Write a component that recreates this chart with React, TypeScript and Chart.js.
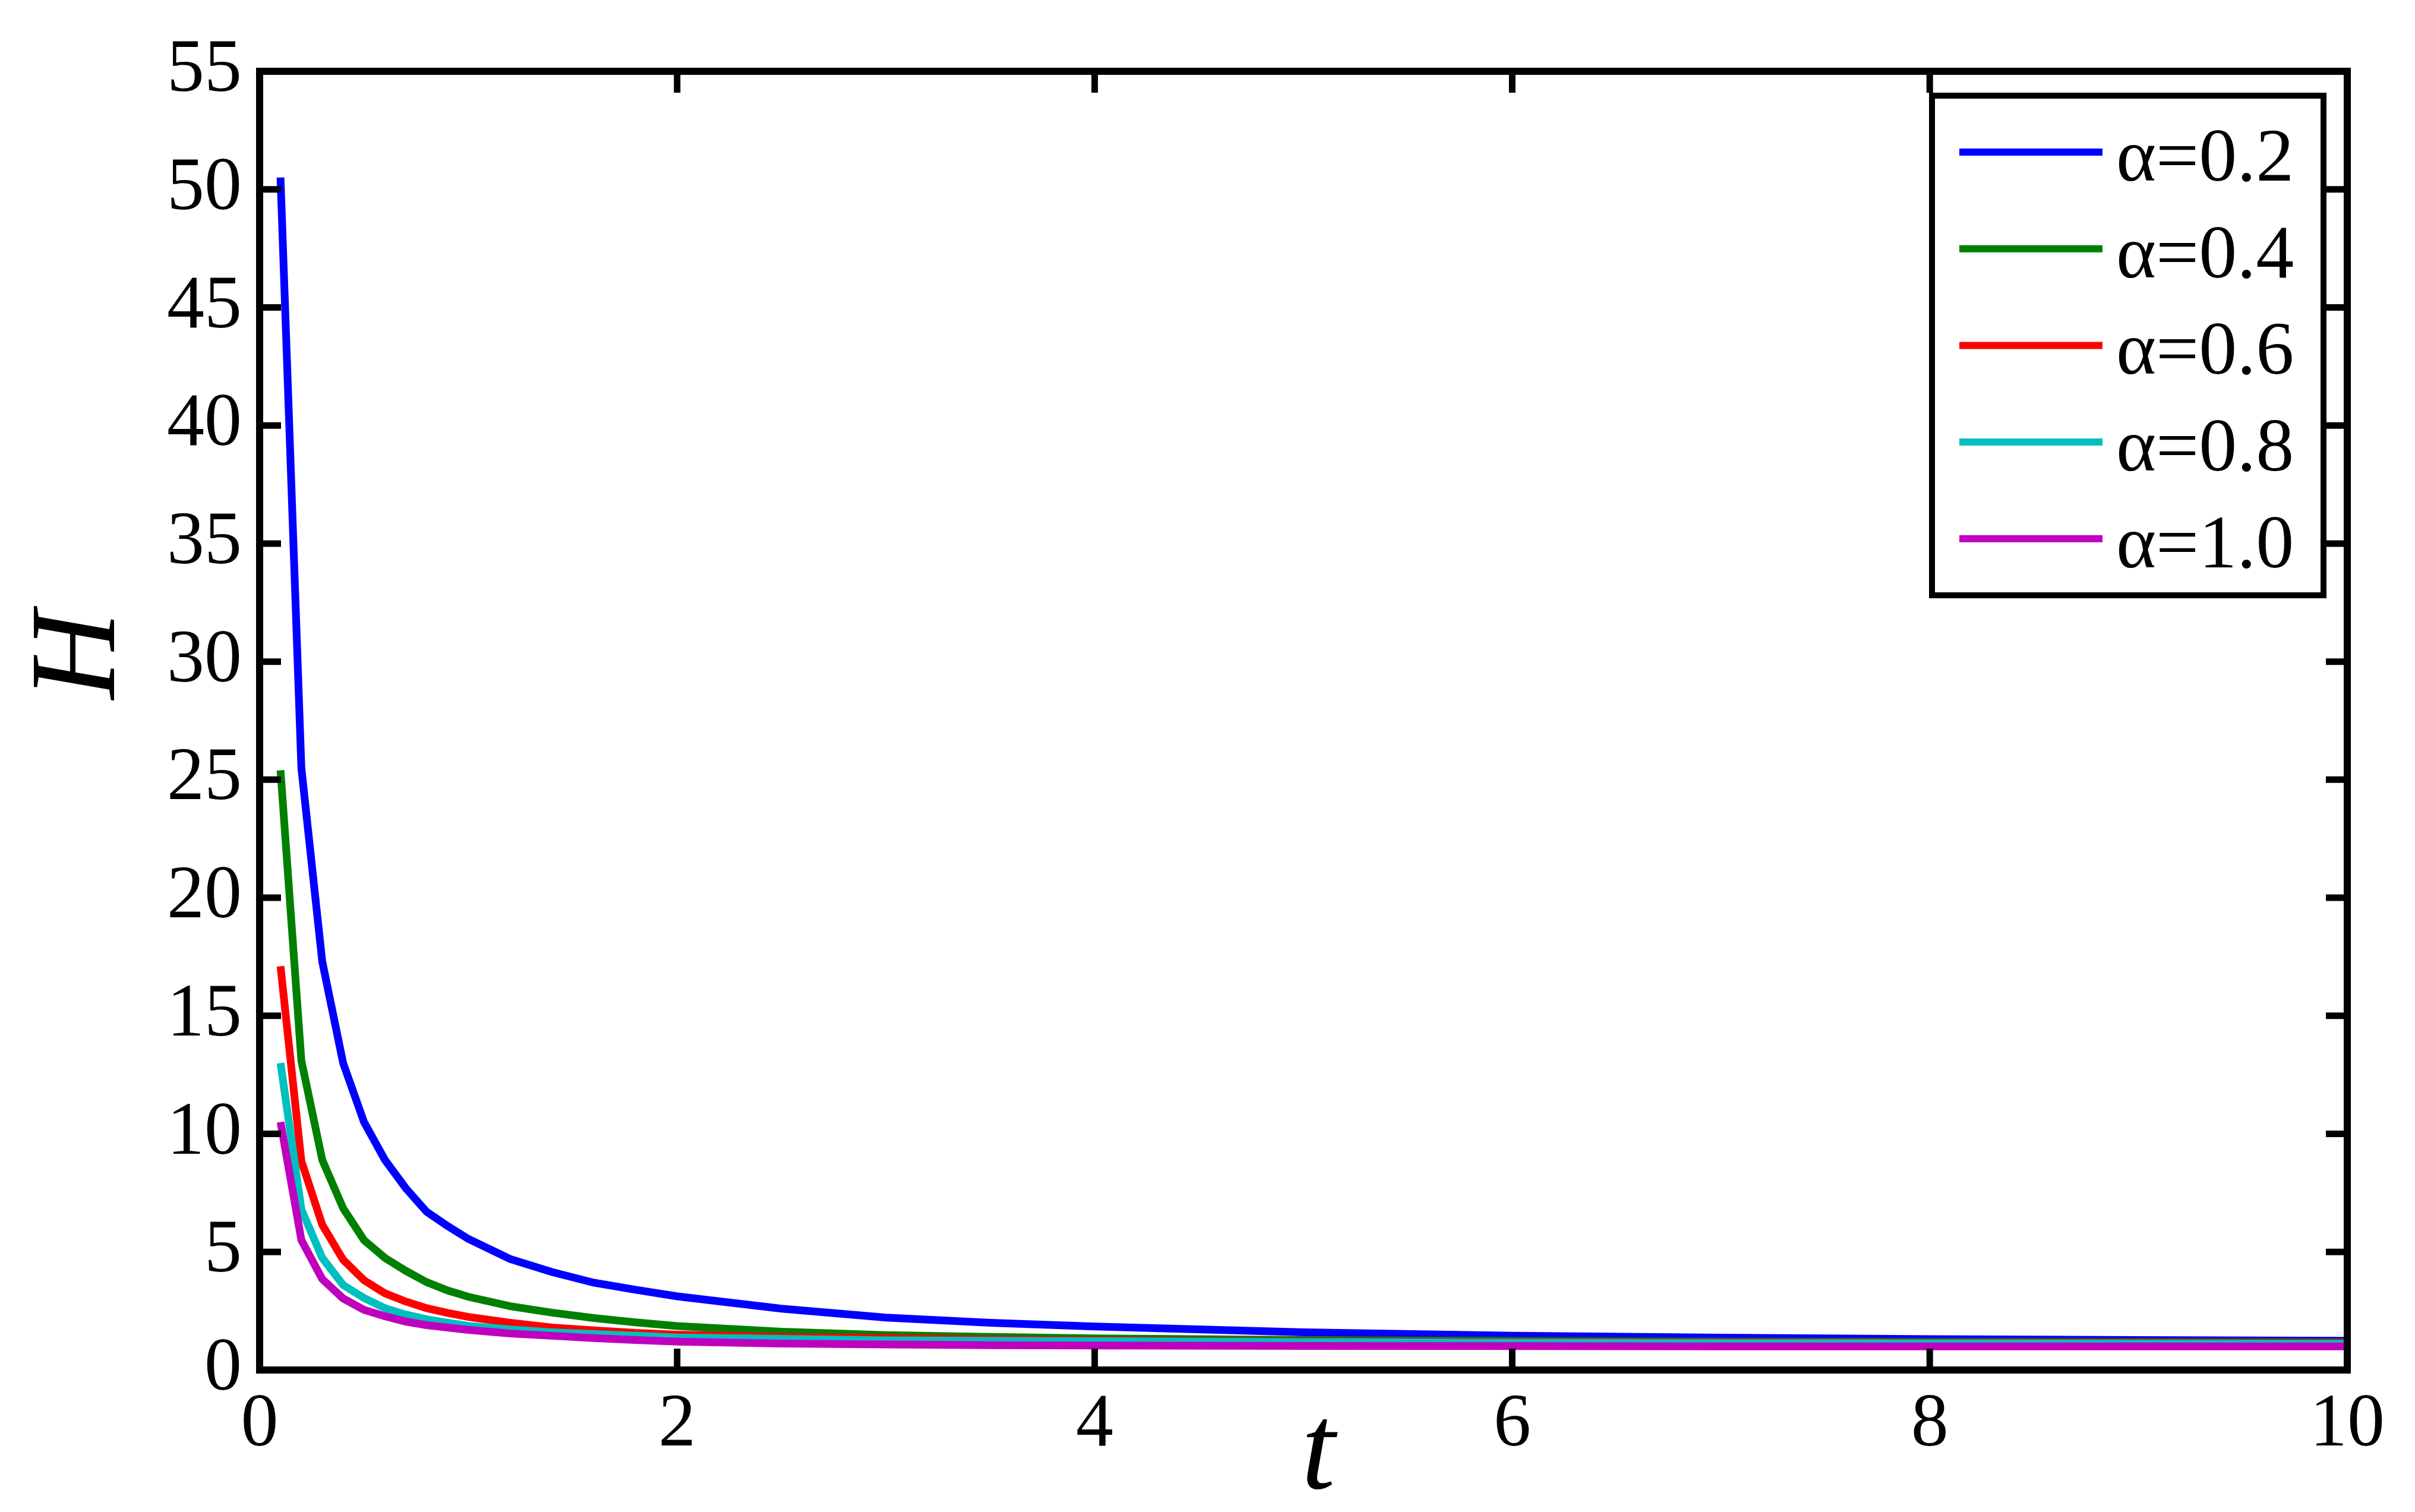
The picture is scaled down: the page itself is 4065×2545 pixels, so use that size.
import React, { useEffect, useRef } from 'react';
import { Chart, registerables } from 'chart.js';

Chart.register(...registerables);

// ---- data ----
const tValues = [0.1, 0.2, 0.3, 0.4, 0.5, 0.6, 0.7, 0.8, 0.9, 1.0, 1.2, 1.4, 1.6, 1.8, 2.0, 2.5, 3, 3.5, 4, 5, 6, 7, 8, 9, 10];

const seriesLabels = ['α=0.2', 'α=0.4', 'α=0.6', 'α=0.8', 'α=1.0'];
const seriesColors = ['#0000FF', '#008000', '#FF0000', '#00BFBF', '#BF00BF'];

const alpha02 = [50.5, 25.5, 17.3, 13.0, 10.5, 8.9, 7.7, 6.7, 6.1, 5.55, 4.7, 4.15, 3.7, 3.4, 3.12, 2.6, 2.22, 2.0, 1.84, 1.6, 1.45, 1.37, 1.31, 1.27, 1.24];
const alpha04 = [25.4, 13.1, 8.9, 6.85, 5.5, 4.75, 4.2, 3.72, 3.37, 3.1, 2.7, 2.43, 2.2, 2.02, 1.86, 1.62, 1.48, 1.4, 1.34, 1.27, 1.23, 1.2, 1.19, 1.18, 1.17];
const alpha06 = [17.1, 8.85, 6.15, 4.67, 3.8, 3.25, 2.9, 2.62, 2.42, 2.25, 2.0, 1.8, 1.68, 1.57, 1.5, 1.4, 1.35, 1.29, 1.25, 1.21, 1.19, 1.17, 1.16, 1.15, 1.14];
const alpha08 = [13.0, 6.8, 4.75, 3.6, 3.05, 2.62, 2.35, 2.15, 2.0, 1.87, 1.72, 1.6, 1.52, 1.45, 1.38, 1.32, 1.26, 1.24, 1.22, 1.18, 1.16, 1.14, 1.13, 1.12, 1.11];
const alpha10 = [10.5, 5.5, 3.85, 3.03, 2.55, 2.28, 2.05, 1.9, 1.8, 1.7, 1.55, 1.45, 1.35, 1.27, 1.2, 1.12, 1.08, 1.05, 1.04, 1.02, 1.01, 1.0, 1.0, 1.0, 1.0];

const seriesValues = [alpha02, alpha04, alpha06, alpha08, alpha10];

const xTicks = [0, 2, 4, 6, 8, 10];
const yTicks = [0, 5, 10, 15, 20, 25, 30, 35, 40, 45, 50, 55];
const xTitle = 't';
const yTitle = 'H';

const FONT = '"Liberation Serif", "Times New Roman", serif';

const framePlugin = {
  id: 'matlabFrame',
  afterDatasetsDraw(chart: any) {
    const { ctx, chartArea: a, scales } = chart;
    ctx.save();
    ctx.strokeStyle = '#000';
    ctx.lineCap = 'butt';
    // inward ticks on all four sides
    ctx.lineWidth = 11;
    const tickLen = 36;
    for (const v of xTicks) {
      if (v === xTicks[0] || v === xTicks[xTicks.length - 1]) continue;
      const px = scales.x.getPixelForValue(v);
      ctx.beginPath();
      ctx.moveTo(px, a.bottom);
      ctx.lineTo(px, a.bottom - tickLen);
      ctx.moveTo(px, a.top);
      ctx.lineTo(px, a.top + tickLen);
      ctx.stroke();
    }
    for (const v of yTicks) {
      if (v === yTicks[0] || v === yTicks[yTicks.length - 1]) continue;
      const py = scales.y.getPixelForValue(v);
      ctx.beginPath();
      ctx.moveTo(a.left, py);
      ctx.lineTo(a.left + tickLen, py);
      ctx.moveTo(a.right, py);
      ctx.lineTo(a.right - tickLen, py);
      ctx.stroke();
    }
    // frame
    ctx.lineWidth = 12;
    ctx.lineJoin = 'miter';
    ctx.strokeRect(a.left, a.top, a.right - a.left, a.bottom - a.top);

    // legend
    const bw = 659;
    const bh = 841;
    const bx = a.right - 40 - bw;
    const by = a.top + 41;
    ctx.fillStyle = '#fff';
    ctx.fillRect(bx, by, bw, bh);
    ctx.lineWidth = 10;
    ctx.strokeRect(bx, by, bw, bh);
    const ds = chart.data.datasets;
    ctx.font = `128px ${FONT}`;
    ctx.textAlign = 'left';
    ctx.textBaseline = 'alphabetic';
    for (let i = 0; i < ds.length; i++) {
      const ry = by + 95 + i * 162.7;
      ctx.strokeStyle = ds[i].borderColor;
      ctx.lineWidth = 12;
      ctx.beginPath();
      ctx.moveTo(bx + 46, ry);
      ctx.lineTo(bx + 287, ry);
      ctx.stroke();
      ctx.fillStyle = '#000';
      ctx.fillText(ds[i].label, bx + 310, ry + 48);
    }

    // axis titles
    ctx.fillStyle = '#000';
    ctx.font = `italic 205px ${FONT}`;
    ctx.textAlign = 'center';
    ctx.textBaseline = 'alphabetic';
    ctx.fillText(xTitle, (a.left + a.right) / 2 + 25, a.bottom + 199);
    ctx.save();
    ctx.translate(a.left - 245, a.top + 983);
    ctx.rotate(-Math.PI / 2);
    ctx.fillText(yTitle, 0, 0);
    ctx.restore();

    ctx.restore();
  },
};

export default function App() {
  const canvasRef = useRef<HTMLCanvasElement | null>(null);

  useEffect(() => {
    document.body.style.margin = '0';
    document.body.style.overflow = 'hidden';
    const canvas = canvasRef.current;
    if (!canvas) return;
    const chart = new Chart(canvas, {
      type: 'line',
      data: {
        datasets: seriesValues.map((vals, i) => ({
          label: seriesLabels[i],
          data: tValues.map((t, j) => ({ x: t, y: vals[j] })),
          borderColor: seriesColors[i],
          backgroundColor: seriesColors[i],
          borderWidth: 13,
          pointRadius: 0,
          tension: 0,
          fill: false,
          order: seriesValues.length - i,
        })),
      },
      options: {
        animation: false,
        responsive: false,
        devicePixelRatio: 1,
        events: [],
        layout: { padding: { left: 0, top: 120, right: 114, bottom: 0 } },
        plugins: {
          legend: { display: false },
          tooltip: { enabled: false },
          title: { display: false },
        },
        scales: {
          x: {
            type: 'linear',
            min: 0,
            max: 10,
            grid: { display: false, drawTicks: false },
            border: { display: false },
            ticks: {
              stepSize: 2,
              padding: 18,
              color: '#000',
              maxRotation: 0,
              autoSkip: false,
              font: { family: FONT, size: 126 },
            },
            afterFit(scale: any) {
              scale.height = 239;
            },
          },
          y: {
            type: 'linear',
            min: 0,
            max: 55,
            grid: { display: false, drawTicks: false },
            border: { display: false },
            ticks: {
              stepSize: 5,
              padding: 30,
              color: '#000',
              autoSkip: false,
              font: { family: FONT, size: 126 },
            },
            afterFit(scale: any) {
              scale.width = 437;
            },
          },
        },
      },
      plugins: [framePlugin],
    });
    return () => chart.destroy();
  }, []);

  return (
    <div style={{ width: 4065, height: 2545, background: '#fff' }}>
      <canvas ref={canvasRef} width={4065} height={2545} style={{ display: 'block' }} />
    </div>
  );
}
